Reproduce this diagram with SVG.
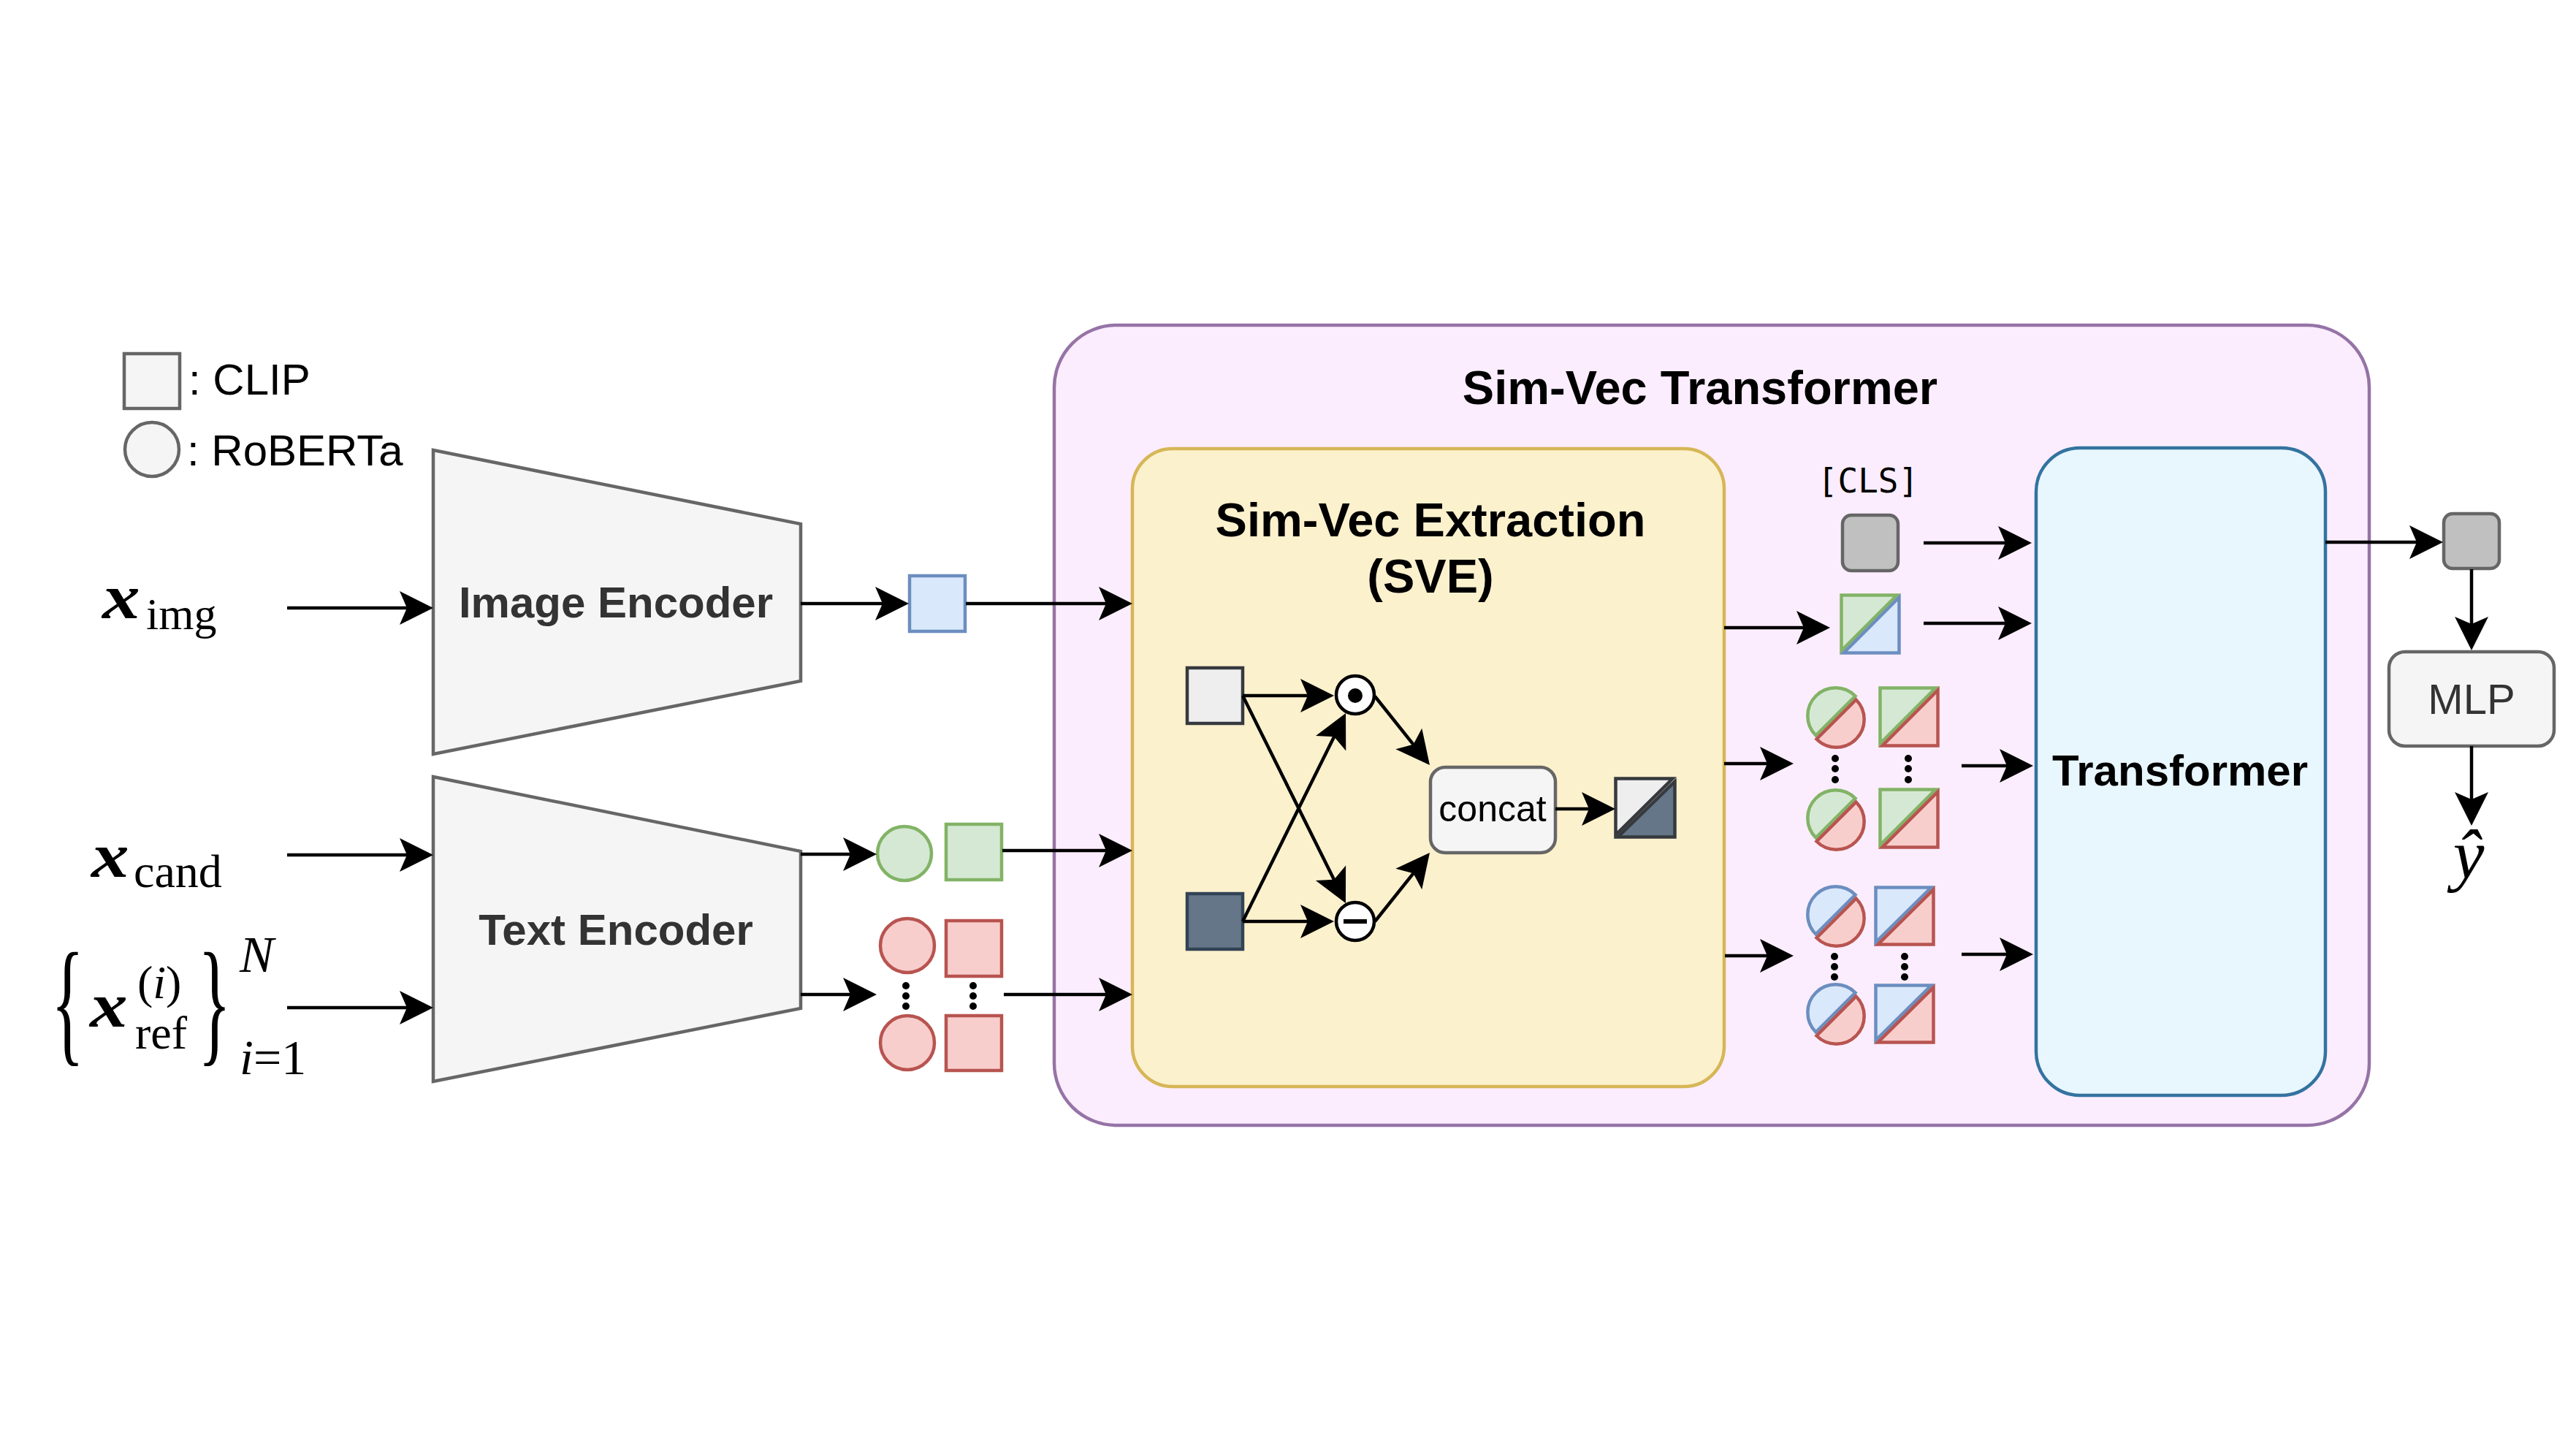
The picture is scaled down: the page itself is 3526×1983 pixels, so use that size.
<svg xmlns="http://www.w3.org/2000/svg" width="3526" height="1983" viewBox="0 0 3526 1983">
<defs>
<style>
.sans{font-family:"Liberation Sans",Arial,sans-serif}
.bold{font-weight:bold}
.serif{font-family:"Liberation Serif","Times New Roman",serif}
.mono{font-family:"DejaVu Sans Mono","Liberation Mono",monospace}
.gray{fill:#f5f5f5;stroke:#666666;stroke-width:4.5}
.blue{fill:#dae8fc;stroke:#6c8ebf;stroke-width:4.5}
.green{fill:#d5e8d4;stroke:#82b366;stroke-width:4.5}
.red{fill:#f8cecc;stroke:#b85450;stroke-width:4.5}
.light{fill:#eeeeee;stroke:#36393d;stroke-width:4.5}
.dark{fill:#647687;stroke:#314354;stroke-width:4.5}
.cls{fill:#c0c0c0;stroke:#666666;stroke-width:4.5}
.arr{fill:none;stroke:#000;stroke-width:4.5;marker-end:url(#ah)}
</style>
<marker id="ah" markerUnits="userSpaceOnUse" viewBox="-47 -24 48 48" markerWidth="48" markerHeight="48" refX="-8" refY="0" orient="auto">
<path d="M0,0 L-46,-23 L-36,0 L-46,23 Z" fill="#000"/>
</marker>
</defs>
<rect width="3526" height="1983" fill="#ffffff"/>

<g id="legend">
<rect x="170" y="484" width="76" height="75" class="gray"/>
<text x="258" y="540" class="sans" font-size="60" fill="#000">: CLIP</text>
<circle cx="208" cy="615" r="37" class="gray"/>
<text x="256" y="637" class="sans" font-size="60" fill="#000">: RoBERTa</text>
</g>

<g id="label-img">
<text transform="translate(140,846) scale(1.2,1)" class="serif" font-size="86" font-weight="bold" font-style="italic">x</text>
<text x="200" y="861" class="serif" font-size="62">img</text>
</g>
<g id="label-cand">
<text transform="translate(125,1200) scale(1.2,1)" class="serif" font-size="86" font-weight="bold" font-style="italic">x</text>
<text x="183" y="1214" class="serif" font-size="64">cand</text>
</g>
<g id="label-ref">
<text transform="translate(70,1434) scale(0.5,1)" class="serif" font-size="188">{</text>
<text transform="translate(123,1405) scale(1.2,1)" class="serif" font-size="86" font-weight="bold" font-style="italic">x</text>
<text x="188" y="1366" class="serif" font-size="64">(<tspan font-style="italic">i</tspan>)</text>
<text x="185" y="1435" class="serif" font-size="64">ref</text>
<text transform="translate(271,1434) scale(0.5,1)" class="serif" font-size="188">}</text>
<text x="328" y="1330" class="serif" font-size="70" font-style="italic">N</text>
<text x="328" y="1470" class="serif" font-size="68"><tspan font-style="italic">i</tspan>=1</text>
</g>

<g id="image-encoder">
<polygon points="593,616 1096,717 1096,932 593,1032" class="gray"/>
<text x="843" y="845" class="sans bold" font-size="60" fill="#333333" text-anchor="middle">Image Encoder</text>
</g>
<g id="text-encoder">
<polygon points="593,1063 1096,1165 1096,1380 593,1480" class="gray"/>
<text x="843" y="1293" class="sans bold" font-size="60" fill="#333333" text-anchor="middle">Text Encoder</text>
</g>

<g id="img-emb">
<rect x="1245" y="788" width="76" height="76" class="blue"/>
</g>
<g id="cand-emb">
<circle cx="1238" cy="1168" r="37" class="green"/>
<rect x="1295" y="1128" width="76" height="76" class="green"/>
</g>
<g id="ref-emb">
<circle cx="1242" cy="1294" r="37" class="red"/>
<rect x="1295" y="1260" width="76" height="76" class="red"/>
<circle cx="1242" cy="1427" r="37" class="red"/>
<rect x="1295" y="1390" width="76" height="75" class="red"/>
<circle cx="1240" cy="1349" r="5"/><circle cx="1240" cy="1363" r="5"/><circle cx="1240" cy="1377" r="5"/>
<circle cx="1332" cy="1349" r="5"/><circle cx="1332" cy="1363" r="5"/><circle cx="1332" cy="1377" r="5"/>
</g>

<g id="sim-vec-transformer">
<rect x="1443" y="445" width="1800" height="1095" rx="85" ry="85" fill="#fbedfd" stroke="#9673a6" stroke-width="4.5"/>
<text x="2327" y="553" class="sans bold" font-size="65" fill="#000" text-anchor="middle">Sim-Vec Transformer</text>
</g>

<g id="sve">
<rect x="1550" y="614" width="810" height="873" rx="55" ry="55" fill="#fcf1cd" stroke="#d6b656" stroke-width="4.5"/>
<text x="1958" y="734" class="sans bold" font-size="65" fill="#000" text-anchor="middle">Sim-Vec Extraction</text>
<text x="1958" y="811" class="sans bold" font-size="65" fill="#000" text-anchor="middle">(SVE)</text>
</g>
<g id="sve-in-a">
<rect x="1625" y="914" width="76" height="76" class="light"/>
</g>
<g id="sve-in-b">
<rect x="1625" y="1223" width="76" height="76" class="dark"/>
</g>
<g id="op-mul">
<circle cx="1855" cy="951" r="26" fill="#ffffff" stroke="#000" stroke-width="4.5"/>
<circle cx="1855" cy="952" r="10" fill="#000"/>
</g>
<g id="op-sub">
<circle cx="1855" cy="1261" r="26" fill="#ffffff" stroke="#000" stroke-width="4.5"/>
<line x1="1839" y1="1261" x2="1871" y2="1261" stroke="#000" stroke-width="6"/>
</g>
<g id="concat">
<rect x="1958" y="1050" width="171" height="117" rx="20" ry="20" class="gray"/>
<text x="2043" y="1124" class="sans" font-size="50" fill="#000" text-anchor="middle">concat</text>
</g>
<g id="sve-out">
<polygon points="2211.5,1065.5 2289.5,1065.5 2211.5,1142.5" fill="#eeeeee" stroke="#36393d" stroke-width="4.5"/>
<polygon points="2292.5,1069.5 2292.5,1145.5 2214.5,1145.5" fill="#647687" stroke="#36393d" stroke-width="4.5"/>
</g>

<g id="cls-token">
<text x="2557" y="674" class="mono" font-size="46" fill="#000" text-anchor="middle">[CLS]</text>
<rect x="2522" y="705" width="76" height="76" rx="12" ry="12" class="cls"/>
</g>
<g id="img-sim">
<polygon points="2520.5,814.5 2596.5,814.5 2520.5,890.5" class="green"/>
<polygon points="2599.5,817.5 2599.5,893.5 2523.5,893.5" class="blue"/>
</g>
<g id="cand-sim">
<path d="M2485.5,1006.5 A38,38 0 0 1 2539.5,952.5 Z" class="green"/>
<path d="M2540.5,957.5 A38,38 0 0 1 2486.5,1011.5 Z" class="red"/>
<polygon points="2573.5,941.5 2649.5,941.5 2573.5,1017.5" class="green"/>
<polygon points="2652.5,944.5 2652.5,1020.5 2576.5,1020.5" class="red"/>
<circle cx="2512" cy="1038" r="5"/><circle cx="2512" cy="1052" r="5"/><circle cx="2512" cy="1067" r="5"/>
<circle cx="2612" cy="1038" r="5"/><circle cx="2612" cy="1052" r="5"/><circle cx="2612" cy="1067" r="5"/>
<path d="M2485.5,1146.5 A38,38 0 0 1 2539.5,1092.5 Z" class="green"/>
<path d="M2540.5,1097.5 A38,38 0 0 1 2486.5,1151.5 Z" class="red"/>
<polygon points="2573.5,1080.5 2649.5,1080.5 2573.5,1156.5" class="green"/>
<polygon points="2652.5,1083.5 2652.5,1159.5 2576.5,1159.5" class="red"/>
</g>
<g id="ref-sim">
<path d="M2485.5,1278.5 A38,38 0 0 1 2539.5,1224.5 Z" class="blue"/>
<path d="M2540.5,1229.5 A38,38 0 0 1 2486.5,1283.5 Z" class="red"/>
<polygon points="2567.5,1214.5 2643.5,1214.5 2567.5,1289.5" class="blue"/>
<polygon points="2646.5,1217.5 2646.5,1292.5 2570.5,1292.5" class="red"/>
<circle cx="2511" cy="1309" r="5"/><circle cx="2511" cy="1323" r="5"/><circle cx="2511" cy="1337" r="5"/>
<circle cx="2607" cy="1309" r="5"/><circle cx="2607" cy="1323" r="5"/><circle cx="2607" cy="1337" r="5"/>
<path d="M2485.5,1412.5 A38,38 0 0 1 2539.5,1358.5 Z" class="blue"/>
<path d="M2540.5,1363.5 A38,38 0 0 1 2486.5,1417.5 Z" class="red"/>
<polygon points="2567.5,1348.5 2643.5,1348.5 2567.5,1423.5" class="blue"/>
<polygon points="2646.5,1351.5 2646.5,1426.5 2570.5,1426.5" class="red"/>
</g>

<g id="transformer">
<rect x="2787" y="613" width="396" height="886" rx="60" ry="60" fill="#e8f6fe" stroke="#33739f" stroke-width="4.5"/>
<text x="2984" y="1075" class="sans bold" font-size="60" fill="#000" text-anchor="middle">Transformer</text>
</g>
<g id="cls-out">
<rect x="3345" y="703" width="76" height="75" rx="12" ry="12" class="cls"/>
</g>
<g id="mlp">
<rect x="3270" y="892" width="226" height="129" rx="22" ry="22" class="gray"/>
<text x="3383" y="977" class="sans" font-size="58" fill="#333333" text-anchor="middle">MLP</text>
</g>
<g id="y-hat">
<text x="3379" y="1202" class="serif" font-size="96" font-style="italic" text-anchor="middle">ŷ</text>
</g>

<g id="connectors">
<line x1="393" y1="832" x2="585" y2="832" class="arr"/>
<line x1="393" y1="1170" x2="585" y2="1170" class="arr"/>
<line x1="393" y1="1379" x2="585" y2="1379" class="arr"/>
<line x1="1096" y1="826" x2="1236" y2="826" class="arr"/>
<line x1="1322" y1="826" x2="1542" y2="826" class="arr"/>
<line x1="1096" y1="1169" x2="1192" y2="1169" class="arr"/>
<line x1="1372" y1="1164" x2="1542" y2="1164" class="arr"/>
<line x1="1096" y1="1361" x2="1192" y2="1361" class="arr"/>
<line x1="1374" y1="1361" x2="1542" y2="1361" class="arr"/>
<line x1="1701" y1="952" x2="1818" y2="952" class="arr"/>
<line x1="1701" y1="952" x2="1838.4" y2="1228.8" class="arr"/>
<line x1="1701" y1="1261" x2="1838.5" y2="983.2" class="arr"/>
<line x1="1701" y1="1261" x2="1818" y2="1261" class="arr"/>
<line x1="1882" y1="953" x2="1952" y2="1040.7" class="arr"/>
<line x1="1882" y1="1261" x2="1952" y2="1173.3" class="arr"/>
<line x1="2129" y1="1107" x2="2203" y2="1107" class="arr"/>
<line x1="2360" y1="859" x2="2497" y2="859" class="arr"/>
<line x1="2360" y1="1045" x2="2447" y2="1045" class="arr"/>
<line x1="2361" y1="1308" x2="2447" y2="1308" class="arr"/>
<line x1="2633" y1="743" x2="2773" y2="743" class="arr"/>
<line x1="2633" y1="853" x2="2773" y2="853" class="arr"/>
<line x1="2685" y1="1048" x2="2775" y2="1048" class="arr"/>
<line x1="2685" y1="1306" x2="2775" y2="1306" class="arr"/>
<line x1="3183" y1="742" x2="3336" y2="742" class="arr"/>
<line x1="3383" y1="779" x2="3383" y2="882" class="arr"/>
<line x1="3383" y1="1021" x2="3383" y2="1122" class="arr"/>
</g>
</svg>
